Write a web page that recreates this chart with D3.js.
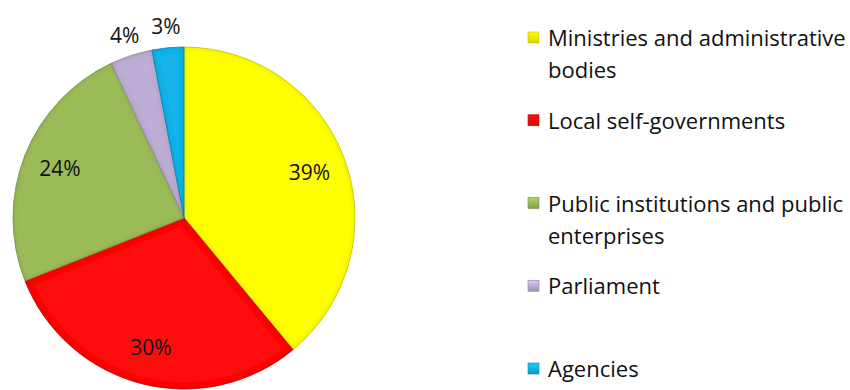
<!DOCTYPE html>
<html>
<head>
<meta charset="utf-8">
<script src="https://cdn.jsdelivr.net/npm/d3@7"></script>
<style>
  html, body { margin: 0; padding: 0; background: #fff; }
  svg { display: block; font-family: "Open Sans", Lato, sans-serif; }
</style>
</head>
<body>
<svg id="chart" width="850" height="390"></svg>
<script>
// Share of each institution group
const categories = [
  "Ministries and administrative bodies",
  "Local self-governments",
  "Public institutions and public enterprises",
  "Parliament",
  "Agencies"
];
const values = [39, 30, 24, 4, 3];
const legendLines = [
  ["Ministries and administrative", "bodies"],
  ["Local self-governments"],
  ["Public institutions and public", "enterprises"],
  ["Parliament"],
  ["Agencies"]
];
const colors = ["#FFFF00", "#FF0D0D", "#9BBB59", "#BEADD4", "#12B4EA"];

const svg = d3.select("#chart");
const cx = 184, cy = 218, R = 171;

const color = d3.scaleOrdinal().domain(categories).range(colors);
const data = categories.map((c, i) => ({ name: c, value: values[i], lines: legendLines[i] }));

const pie = d3.pie().value(d => d.value).sort(null);
const arcs = pie(data);
const arc = d3.arc().innerRadius(0).outerRadius(R);

const defs = svg.append("defs");
// soft bevel: darken edges of each slice
const bevel = defs.append("filter").attr("id", "bevel")
  .attr("x", "-5%").attr("y", "-5%").attr("width", "110%").attr("height", "110%");
bevel.append("feGaussianBlur").attr("in", "SourceAlpha").attr("stdDeviation", 3).attr("result", "blur");
bevel.append("feComposite").attr("in", "SourceAlpha").attr("in2", "blur")
  .attr("operator", "arithmetic").attr("k2", 1).attr("k3", -1).attr("result", "rim");
bevel.append("feFlood").attr("flood-color", "#000").attr("flood-opacity", 0.3);
bevel.append("feComposite").attr("in2", "rim").attr("operator", "in").attr("result", "shade");
const merge = bevel.append("feMerge");
merge.append("feMergeNode").attr("in", "SourceGraphic");
merge.append("feMergeNode").attr("in", "shade");

// legend marker gradients
colors.forEach((c, i) => {
  const g = defs.append("linearGradient").attr("id", "mk" + i)
    .attr("x1", 0).attr("y1", 0).attr("x2", 0).attr("y2", 1);
  g.append("stop").attr("offset", 0).attr("stop-color", d3.color(c).brighter(0.4));
  g.append("stop").attr("offset", 1).attr("stop-color", d3.color(c).darker(0.5));
});

const g = svg.append("g").attr("transform", `translate(${cx},${cy})`);

g.selectAll("path.slice")
  .data(arcs)
  .join("path")
  .attr("class", "slice")
  .attr("d", arc)
  .attr("fill", d => color(d.data.name))
  .attr("stroke", d => d3.color(color(d.data.name)).darker(0.6))
  .attr("stroke-width", 0.8)
  .attr("filter", "url(#bevel)");

// value labels: inside for large slices, just outside the rim for small ones
const inner = d3.arc().innerRadius(R * 0.78).outerRadius(R * 0.78);
const outer = d3.arc().innerRadius(R + 21).outerRadius(R + 21);
g.selectAll("text.val")
  .data(arcs)
  .join("text")
  .attr("class", "val")
  .attr("transform", d => `translate(${(d.data.value >= 10 ? inner : outer).centroid(d)})`)
  .attr("text-anchor", "middle")
  .attr("dy", "0.36em")
  .attr("font-size", 21)
  .attr("fill", "#111")
  .text(d => d.data.value + "%");

// legend
const legendY = d3.scaleLinear().domain([0, 4]).range([46, 377]);
const lg = svg.append("g");
const item = lg.selectAll("g.item")
  .data(data)
  .join("g")
  .attr("class", "item")
  .attr("transform", (d, i) => `translate(528,${legendY(i)})`);

item.append("rect")
  .attr("x", 0).attr("y", -14).attr("width", 11).attr("height", 11)
  .attr("fill", (d, i) => `url(#mk${i})`)
  .attr("stroke", d => d3.color(color(d.name)).darker(0.8))
  .attr("stroke-width", 0.6);

item.append("text")
  .attr("x", 20)
  .attr("font-size", 22)
  .attr("fill", "#111")
  .selectAll("tspan")
  .data(d => d.lines)
  .join("tspan")
  .attr("x", 20)
  .attr("y", (d, i) => i * 32)
  .text(d => d);
</script>
</body>
</html>
